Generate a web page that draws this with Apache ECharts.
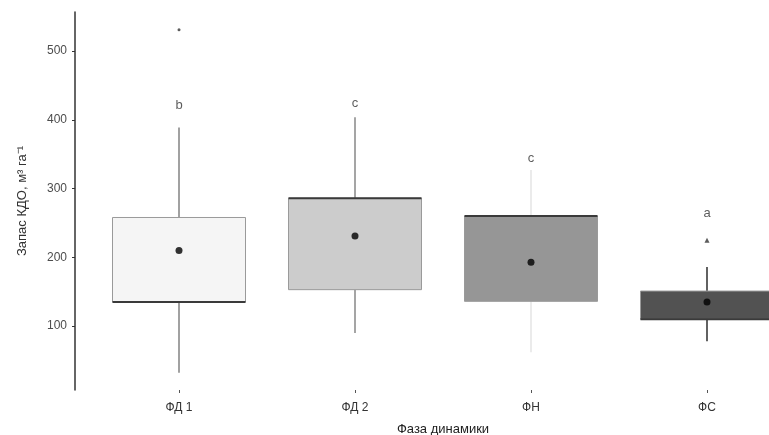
<!DOCTYPE html>
<html>
<head>
<meta charset="utf-8">
<script src="https://cdn.jsdelivr.net/npm/echarts@6/dist/echarts.min.js"></script>
<style>html,body{margin:0;padding:0;background:#fff}#c{width:769px;height:435px}</style>
</head>
<body>
<div id="c"></div>
<script>
// ---- data ----
const categories = ['ФД 1', 'ФД 2', 'ФН', 'ФС'];
const lowerWhisker = [32, 90, 62, 78];
const q1 = [135, 153, 136, 110];
const median = [135, 286, 260, 110];
const q3 = [258, 286, 260, 151];
const upperWhisker = [389, 404, 327, 186];
const means = [210, 231, 193, 135];
const outliersDot = [[0, 531]];
const outliersTri = [[3, 225]];
const letters = ['b', 'c', 'c', 'a'];
const letterY = [421, 424, 344, 264];
const yTicks = [100, 200, 300, 400, 500];

// ---- styles ----
const fillColors = ['#f5f5f5', '#cccccc', '#969696', '#525252'];
const whiskerColors = ['#8a8a8a', '#8f8f8f', '#e6e6e6', '#3a3a3a'];
const BOX_W = 133;

const boxData = categories.map((c, i) => [i, lowerWhisker[i], q1[i], median[i], q3[i], upperWhisker[i]]);

function renderBox(params, api) {
  const i = api.value(0);
  const x = api.coord([i, 0])[0];
  const yLo = api.coord([i, api.value(1)])[1];
  const yQ1 = api.coord([i, api.value(2)])[1];
  const yMed = api.coord([i, api.value(3)])[1];
  const yQ3 = api.coord([i, api.value(4)])[1];
  const yUp = api.coord([i, api.value(5)])[1];
  const h = BOX_W / 2;
  const wc = whiskerColors[i];
  return {
    type: 'group',
    children: [
      { type: 'line', shape: { x1: x, y1: yQ3, x2: x, y2: yUp }, style: { stroke: wc, lineWidth: 1.6 } },
      { type: 'line', shape: { x1: x, y1: yQ1, x2: x, y2: yLo }, style: { stroke: wc, lineWidth: 1.6 } },
      { type: 'rect', shape: { x: x - h, y: yQ3, width: BOX_W, height: yQ1 - yQ3 },
        style: { fill: fillColors[i], stroke: '#9a9a9a', lineWidth: 1 } },
      { type: 'line', shape: { x1: x - h, y1: yMed, x2: x + h, y2: yMed }, style: { stroke: '#3a3a3a', lineWidth: 2 } }
    ]
  };
}

const chart = echarts.init(document.getElementById('c'), null, { renderer: 'canvas' });
chart.setOption({
  animation: false,
  backgroundColor: '#ffffff',
  textStyle: { fontFamily: 'Liberation Sans, Arial, sans-serif' },
  grid: { left: 91, top: 12, height: 378, width: 704, containLabel: false, outerBoundsMode: 'none' },
  xAxis: {
    type: 'category',
    data: categories,
    boundaryGap: true,
    axisLine: { show: false },
    axisTick: { show: true, alignWithLabel: true, length: 3, lineStyle: { color: '#555', width: 1 } },
    axisLabel: { color: '#333', fontSize: 12, margin: 12 },
    name: 'Фаза динамики',
    nameLocation: 'middle',
    nameGap: 33,
    nameTextStyle: { color: '#222', fontSize: 13 },
    splitLine: { show: false }
  },
  yAxis: {
    type: 'value',
    min: 7,
    max: 557,
    offset: 16,
    axisLine: { show: true, lineStyle: { color: '#333', width: 1.5 } },
    axisTick: { show: true, length: 3, customValues: yTicks, lineStyle: { color: '#333' } },
    axisLabel: { show: true, customValues: yTicks, color: '#4d4d4d', fontSize: 12, margin: 8 },
    splitLine: { show: false },
    name: 'Запас КДО, м³ га⁻¹',
    nameLocation: 'middle',
    nameGap: 46,
    nameRotate: 90,
    nameTextStyle: { color: '#333', fontSize: 13 }
  },
  series: [
    {
      type: 'custom',
      renderItem: renderBox,
      data: boxData,
      encode: { x: 0, y: [1, 2, 3, 4, 5] },
      z: 2
    },
    {
      type: 'scatter',
      data: means.map((m, i) => [i, m]),
      symbol: 'circle',
      symbolSize: 7,
      itemStyle: { color: '#000' },
      z: 5
    },
    {
      type: 'scatter',
      data: outliersDot,
      symbol: 'circle',
      symbolSize: 3,
      itemStyle: { color: '#333' },
      z: 5
    },
    {
      type: 'scatter',
      data: outliersTri,
      symbol: 'triangle',
      symbolSize: 5,
      itemStyle: { color: '#333' },
      z: 5
    },
    {
      type: 'scatter',
      data: letterY.map((v, i) => [i, v]),
      symbolSize: 0,
      label: {
        show: true,
        position: 'inside',
        formatter: p => letters[p.dataIndex],
        color: '#333',
        fontSize: 13
      },
      z: 5
    }
  ]
});
</script>
</body>
</html>
